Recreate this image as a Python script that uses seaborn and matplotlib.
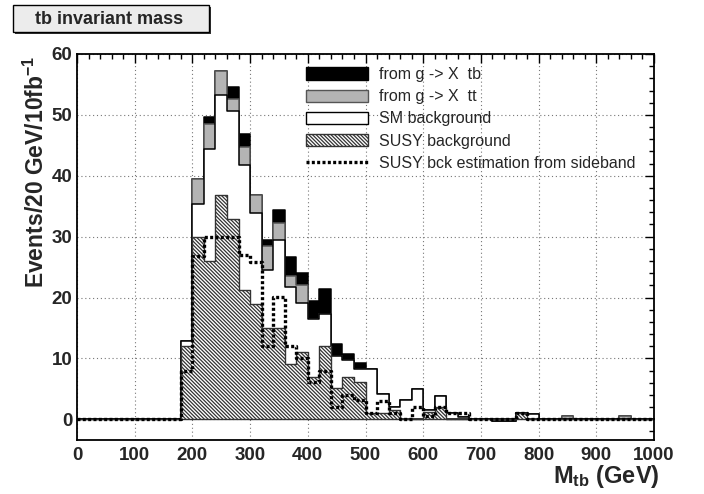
import numpy as np
import pandas as pd
import matplotlib
matplotlib.use("Agg")
import matplotlib.pyplot as plt
import matplotlib.patches as mpatches
from matplotlib.lines import Line2D
from matplotlib.ticker import MultipleLocator
import seaborn as sns

sns.set_style("white")
plt.rcParams["font.family"] = ["Liberation Sans", "DejaVu Sans"]
plt.rcParams["hatch.linewidth"] = 0.9
plt.rcParams["mathtext.fontset"] = "custom"
plt.rcParams["mathtext.rm"] = "Liberation Sans:bold"
plt.rcParams["mathtext.it"] = "Liberation Sans:bold"
plt.rcParams["mathtext.bf"] = "Liberation Sans:bold"

# ---- data: 20 GeV bins from 0 to 1000 GeV ----
bin_edges = list(range(0, 1001, 20))
bin_low = bin_edges[:-1]

# SUSY background (hatched)
susy_bkg = [0]*9 + [12.1, 29.9, 26.0, 36.9, 32.9, 21.2, 19.0, 15.0, 15.0, 9.1,
                    11.0, 7.0, 12.1, 5.1, 7.0, 6.1, 1.0, 1.0, 1.5, 0.0,
                    0.0, 1.2, 2.0, 0.0, 0.0, 0.0, 0.0, 0.0, 0.0, 1.1,
                    0.0, 0.0, 0.0, 0.0, 0.0, 0.0, 0.0, 0.0, 0.0, 0.0, 0.0]
# SM background (white)
sm_bkg = [0]*9 + [0.8, 5.5, 18.4, 16.3, 17.8, 20.6, 14.9, 9.5, 14.5, 12.6,
                  8.1, 9.5, 5.2, 5.3, 2.7, 2.2, 7.3, 3.1, 0.5, 3.2,
                  5.0, 0.4, 1.8, 1.0, 0.3, 0.0, 0.0, -0.3, -0.3, 0.0,
                  0.9, 0.0, 0.0, 0.0, 0.0, 0.0, 0.0, 0.0, 0.0, 0.0, 0.0]
# from g -> X tt (gray)
sig_tt = [0]*9 + [0.0, 4.1, 4.1, 4.0, 1.9, 2.9, 3.0, 3.9, 2.8, 1.9,
                  2.9, 0.0, 0.0, 0.0, 0.0, 0.0, 0.0, 0.0, 0.0, 0.0,
                  0.0, 0.0, 0.0, 0.0, 0.0, 0.0, 0.0, 0.0, 0.0, 0.0,
                  0.0, 0.0, 0.0, 0.6, 0.0, 0.0, 0.0, 0.0, 0.6, 0.0, 0.0]
# from g -> X tb (black)
sig_tb = [0]*9 + [0.0, 0.0, 1.1, 0.0, 2.0, 2.1, 0.0, 1.0, 2.1, 3.0,
                  2.1, 3.0, 4.1, 2.0, 1.1, 1.0, 0.0, 0.0, 0.0, 0.0,
                  0.0, 0.0, 0.0, 0.0, 0.0, 0.0, 0.0, 0.0, 0.0, 0.0,
                  0.0, 0.0, 0.0, 0.0, 0.0, 0.0, 0.0, 0.0, 0.0, 0.0, 0.0]
# SUSY bck estimation from sideband (dotted)
sideband = [0]*9 + [7.9, 26.8, 30.0, 30.0, 30.0, 27.0, 25.9, 12.0, 20.1, 12.0,
                    10.1, 6.2, 8.0, 2.0, 4.0, 3.2, 1.0, 3.0, 1.0, 0.0,
                    2.0, 0.5, 2.0, 1.0, 1.0, 0.0, 0.0, 0.0, 0.0, 1.1,
                    0.0, 0.0, 0.0, 0.0, 0.0, 0.0, 0.0, 0.0, 0.0, 0.0, 0.0]

df = pd.DataFrame({
    "center": np.array(bin_low) + 10,
    "susy": susy_bkg, "sm": sm_bkg, "tt": sig_tt, "tb": sig_tb, "sb": sideband,
})
df["lay_white"] = df["susy"] + df["sm"]
df["lay_gray"] = df["lay_white"] + df["tt"]
df["lay_black"] = df["lay_gray"] + df["tb"]

W, H = 704, 494
fig = plt.figure(figsize=(W/100, H/100), dpi=100)
x0, x1, y0, y1 = 77, 654, 54, 440
ax = fig.add_axes([x0/W, 1 - y1/H, (x1-x0)/W, (y1-y0)/H])

ax.grid(True, which="major", color="#777777", linestyle=(0, (1, 2.5)), linewidth=0.8)
ax.set_axisbelow(True)

HATCH = "\\" * 9
common = dict(x="center", bins=bin_edges, element="step", ax=ax, data=df)
sns.histplot(weights="lay_black", fill=True, color="black", edgecolor="black",
             alpha=1, linewidth=1.1, **common)
sns.histplot(weights="lay_gray", fill=True, color="#b4b4b4", edgecolor="#555555",
             alpha=1, linewidth=1.1, **common)
sns.histplot(weights="lay_white", fill=True, color="white", edgecolor="black",
             alpha=1, linewidth=1.1, **common)
sns.histplot(weights="susy", fill=True, color="white", edgecolor="#333333",
             alpha=1, linewidth=1.0, hatch=HATCH, **common)
sns.histplot(weights="sb", fill=False, color="black", linewidth=2.4,
             linestyle=(0, (0.9, 0.7)), **common)

ax.set_xlim(0, 1000)
ax.set_ylim(-3.4, 60)
ax.xaxis.set_major_locator(MultipleLocator(100))
ax.xaxis.set_minor_locator(MultipleLocator(20))
ax.yaxis.set_major_locator(MultipleLocator(10))
ax.yaxis.set_minor_locator(MultipleLocator(2))
ax.tick_params(which="both", direction="in", top=True, right=True, width=1.0,
               color="black")
ax.tick_params(which="major", length=6.5, labelsize=13.5)
ax.tick_params(axis="x", which="major", pad=5)
ax.tick_params(axis="y", which="major", pad=3.5)
ax.tick_params(which="minor", length=3.6)
for lab in ax.get_xticklabels() + ax.get_yticklabels():
    lab.set_fontweight("bold")
for sp in ax.spines.values():
    sp.set_linewidth(1.3)
    sp.set_color("black")

ax.set_ylabel("")
ax.set_xlabel("")
fig.text(36/W, 1 - 56/H, r"Events/20 GeV/10fb$^{-1}$", fontsize=16.5,
         fontweight="bold", rotation=90, ha="center", va="top")
fig.text(660/W, 1 - 483/H, r"M$_{\mathregular{tb}}$ (GeV)", fontsize=17,
         fontweight="bold", ha="right", va="baseline")

# legend
handles = [
    mpatches.Patch(facecolor="black", edgecolor="black", linewidth=1.0),
    mpatches.Patch(facecolor="#b4b4b4", edgecolor="#555555", linewidth=1.0),
    mpatches.Patch(facecolor="white", edgecolor="black", linewidth=1.0),
    mpatches.Patch(facecolor="white", edgecolor="#333333", linewidth=1.0, hatch=HATCH),
    Line2D([], [], color="black", linewidth=2.4, linestyle=(0, (0.9, 0.7))),
]
labels = ["from g -> X  tb", "from g -> X  tt", "SM background",
          "SUSY background", "SUSY bck estimation from sideband"]
leg = ax.legend(handles, labels, loc="upper left",
                bbox_to_anchor=((306 - x0)/(x1 - x0), (y1 - 67)/(y1 - y0)),
                frameon=False, fontsize=11.5, handlelength=3.9, handleheight=0.8,
                labelspacing=0.45, handletextpad=0.7, borderpad=0, borderaxespad=0)

# title box
shadow = mpatches.Rectangle((15/W, 1 - 34/H), 196/W, 27/H, transform=fig.transFigure,
                            facecolor="#333333", edgecolor="none")
box = mpatches.Rectangle((13/W, 1 - 32/H), 196/W, 27/H, transform=fig.transFigure,
                         facecolor="#ececec", edgecolor="black", linewidth=1.0)
fig.patches.extend([shadow, box])
fig.text(109/W, 1 - 19/H, "tb invariant mass", fontsize=13, fontweight="bold",
         ha="center", va="center")

fig.savefig("out.png", dpi=100)
